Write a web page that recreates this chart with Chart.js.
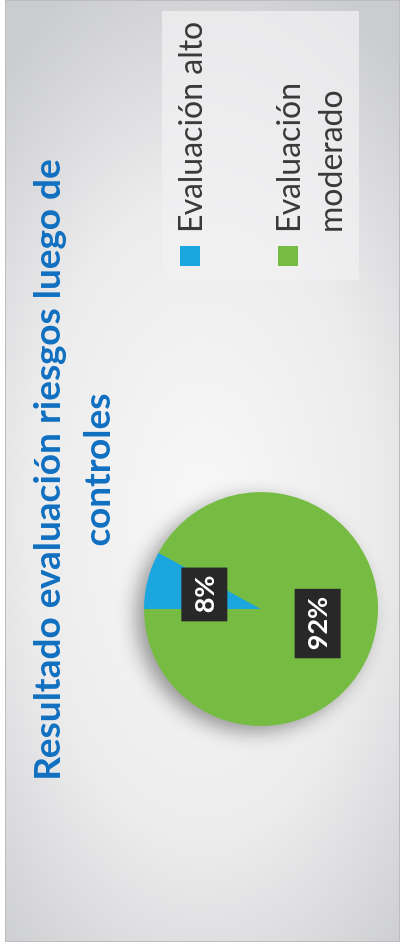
<!DOCTYPE html>
<html>
<head>
<meta charset="utf-8">
<script src="https://cdn.jsdelivr.net/npm/chart.js@4.4.1/dist/chart.umd.min.js"></script>
<style>
html, body { margin: 0; padding: 0; background: #fff; width: 409px; height: 951px; overflow: hidden; }
/* chart is laid out landscape and turned a quarter to the left */
#rot { position: absolute; left: 0; top: 0; width: 951px; height: 409px; transform-origin: 0 0; transform: translate(0, 951px) rotate(-90deg); }
#frame { position: absolute; left: 9px; top: 5px; width: 940px; height: 393px; border: 1px solid #bdbdbd;
  background: radial-gradient(ellipse 62% 80% at 45% 50%, #f8f8f9 0%, #ececed 55%, #cbcccf 100%); }
#frame canvas { position: absolute; left: 0; top: 0; }
</style>
</head>
<body>
<div id="rot"><div id="frame"><canvas id="riskChart" width="940" height="393"></canvas></div></div>
<script>
const categories = ['Evaluación alto', 'Evaluación moderado'];
const legendLines = [['Evaluación alto'], ['Evaluación', 'moderado']];
const shares = [8, 92];
const sliceColors = ['#1ba6e0', '#76bc43'];
const titleLines = ['Resultado evaluación riesgos luego de', 'controles'];

// soft shadow under the pie
const pieShadow = {
  id: 'pieShadow',
  beforeDatasetsDraw(chart) {
    const arc = chart.getDatasetMeta(0).data[0];
    if (!arc) return;
    const ctx = chart.ctx;
    ctx.save();
    ctx.shadowColor = 'rgba(0,0,0,0.4)';
    ctx.shadowBlur = 20;
    ctx.shadowOffsetX = -6;
    ctx.shadowOffsetY = -8;
    ctx.fillStyle = sliceColors[1];
    ctx.beginPath();
    ctx.arc(arc.x, arc.y, arc.outerRadius - 1, 0, Math.PI * 2);
    ctx.fill();
    ctx.restore();
  }
};

// dark boxes with the percentages
const sliceLabels = {
  id: 'sliceLabels',
  afterDatasetsDraw(chart) {
    const ctx = chart.ctx;
    ctx.save();
    ctx.font = 'bold 27px Lato';
    ctx.textAlign = 'center';
    ctx.textBaseline = 'middle';
    chart.getDatasetMeta(0).data.forEach((arc, i) => {
      const p = arc.getCenterPoint();
      const txt = shares[i] + '%';
      const w = ctx.measureText(txt).width + 16;
      const h = 46;
      ctx.fillStyle = '#282828';
      ctx.fillRect(p.x - w / 2, p.y - h / 2, w, h);
      ctx.fillStyle = '#ffffff';
      ctx.fillText(txt, p.x, p.y + 1);
    });
    ctx.restore();
  }
};

// title and legend box
const decorations = {
  id: 'decorations',
  afterDraw(chart) {
    const ctx = chart.ctx;
    ctx.save();
    ctx.textAlign = 'center';
    ctx.textBaseline = 'alphabetic';
    ctx.fillStyle = '#1170c0';
    ctx.font = 'bold 37px Lato';
    ctx.fillText(titleLines[0], 471, 54);
    ctx.fillText(titleLines[1], 471, 104);

    ctx.fillStyle = 'rgba(240,240,241,0.75)';
    ctx.fillRect(661, 156, 269, 197);
    ctx.textAlign = 'left';
    ctx.font = '32px Lato';
    const tops = [174, 272];
    legendLines.forEach((lines, i) => {
      ctx.fillStyle = sliceColors[i];
      ctx.fillRect(675, tops[i], 20, 20);
      ctx.fillStyle = '#3a3a3a';
      lines.forEach((ln, j) => ctx.fillText(ln, 708, tops[i] + 22 + j * 42));
    });
    ctx.restore();
  }
};

new Chart(document.getElementById('riskChart'), {
  type: 'pie',
  data: {
    labels: categories,
    datasets: [{
      data: shares,
      backgroundColor: sliceColors,
      borderWidth: 0
    }]
  },
  options: {
    responsive: false,
    animation: false,
    layout: { padding: { left: 215, right: 491, top: 138, bottom: 21 } },
    plugins: {
      legend: { display: false },
      title: { display: false },
      tooltip: { enabled: false }
    }
  },
  plugins: [pieShadow, sliceLabels, decorations]
});
</script>
</body>
</html>
